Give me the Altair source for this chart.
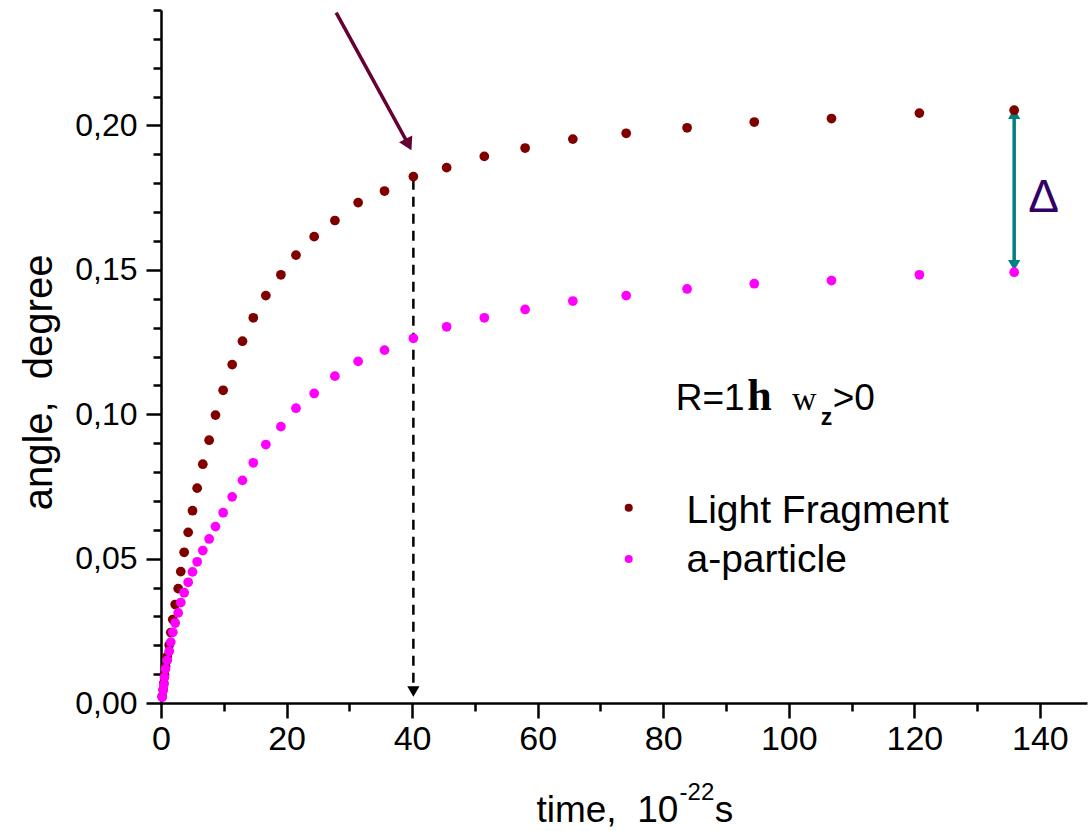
import altair as alt
import pandas as pd

# ---------------- data ----------------
time = [0.19, 0.35, 0.45, 0.56, 0.72, 0.99, 1.31, 1.56, 1.88, 2.26,
        2.74, 3.15, 3.69, 4.33, 5.02, 5.76, 6.66, 7.67, 8.68, 9.90,
        11.34, 12.98, 14.7, 16.7, 19.1, 21.5, 24.4, 27.7, 31.4, 35.6,
        40.2, 45.5, 51.5, 58.0, 65.6, 74.1, 83.8, 94.5, 106.8, 120.8,
        135.9]
light_fragment = [0.0023, 0.0046, 0.0069, 0.0097, 0.0127, 0.0161, 0.0201, 0.0244, 0.0289, 0.0341,
                  0.0396, 0.0455, 0.0522, 0.0591, 0.0666, 0.0744, 0.0827, 0.0910, 0.0997, 0.1083,
                  0.1172, 0.1253, 0.1334, 0.1411, 0.1483, 0.1551, 0.1615, 0.1671, 0.1733, 0.1773,
                  0.1823, 0.1854, 0.1893, 0.1922, 0.1953, 0.1973, 0.1992, 0.2012, 0.2024, 0.2043,
                  0.2053]
alpha_particle = [0.0020, 0.0045, 0.0064, 0.0089, 0.0118, 0.0148, 0.0179, 0.0211, 0.0245, 0.0277,
                  0.0312, 0.0348, 0.0382, 0.0418, 0.0454, 0.0489, 0.0528, 0.0568, 0.0611, 0.0659,
                  0.0714, 0.0771, 0.0832, 0.0895, 0.0957, 0.1021, 0.1072, 0.1132, 0.1183, 0.1222,
                  0.1263, 0.1303, 0.1334, 0.1363, 0.1392, 0.1411, 0.1434, 0.1452, 0.1463, 0.1483,
                  0.1492]

series_names = ["Light Fragment", "a-particle"]
series_colors = ["#800000", "#FF00FF"]

x_ticks = [0, 10, 20, 30, 40, 50, 60, 70, 80, 90, 100, 110, 120, 130, 140]
y_ticks = [0.00, 0.01, 0.02, 0.03, 0.04, 0.05, 0.06, 0.07, 0.08, 0.09, 0.10, 0.11, 0.12,
           0.13, 0.14, 0.15, 0.16, 0.17, 0.18, 0.19, 0.20, 0.21, 0.22, 0.23, 0.24]
x_domain = [0, 147.5]
y_domain = [0, 0.24]

# marked time (dashed drop line) and Δ position
marked_time = 40.2
delta_time = 135.9

SANS = "Liberation Sans"
SERIF = "Liberation Serif"

# ---------------- helpers ----------------
x_scale = alt.Scale(domain=x_domain, nice=False, zero=False)
y_scale = alt.Scale(domain=y_domain, nice=False, zero=False)

x_axis = alt.Axis(
    values=x_ticks, format="d", title=None, grid=False,
    labelExpr="datum.value % 20 == 0 ? datum.label : ''",
    tickSize={"condition": {"test": "datum.value % 20 == 0", "value": 15}, "value": 8},
    tickWidth=2.5, tickColor="black", domainColor="black", domainWidth=2.5,
    labelFont=SANS, labelFontSize=34,
    labelColor="black", labelPadding=4, labelOverlap=False, labelFlush=False,
)
y_axis = alt.Axis(
    values=y_ticks, title=None, grid=False,
    labelExpr="round(datum.value*100) % 5 == 0 ? replace(format(datum.value, '.2f'), '.', ',') : ''",
    tickSize={"condition": {"test": "round(datum.value*100) % 5 == 0", "value": 15}, "value": 8},
    tickWidth=2.5, tickColor="black", domainColor="black", domainWidth=2.5,
    labelFont=SANS, labelFontSize=32, labelColor="black",
    labelPadding=9, labelOverlap=False, labelFlush=False,
)


def X(field="t"):
    return alt.X(f"{field}:Q", scale=x_scale, axis=x_axis)


def Y(field="a"):
    return alt.Y(f"{field}:Q", scale=y_scale, axis=y_axis)


def text_layer(rows, font, size, color="black", weight="normal", align="left",
               baseline="alphabetic", angle=0):
    df = pd.DataFrame(rows, columns=["t", "a", "label"])
    kw = {}
    if angle:
        kw["angle"] = angle
    return alt.Chart(df).mark_text(
        font=font, fontSize=size, color=color, fontWeight=weight,
        align=align, baseline=baseline, **kw
    ).encode(x=X(), y=Y(), text="label:N")


# ---------------- data marks ----------------
df = pd.DataFrame({
    "t": time + time,
    "a": light_fragment + alpha_particle,
    "series": [series_names[0]] * len(time) + [series_names[1]] * len(time),
})
color_scale = alt.Scale(domain=series_names, range=series_colors)

points = alt.Chart(df).mark_circle(size=95, opacity=1).encode(
    x=X(), y=Y(),
    color=alt.Color("series:N", scale=color_scale, legend=None),
)

# ---------------- annotations ----------------
drop = alt.Chart(pd.DataFrame({"t": [marked_time], "a": [0.1812], "a2": [0.006]})).mark_rule(
    color="black", strokeWidth=2.5, strokeDash=[10, 7]
).encode(x=X(), y=Y(), y2="a2:Q")
drop_head = alt.Chart(pd.DataFrame({"t": [marked_time], "a": [0.0040]})).mark_point(
    shape="triangle-down", filled=True, color="black", size=150, opacity=1
).encode(x=X(), y=Y())

pointer = alt.Chart(pd.DataFrame({"t": [27.9], "a": [0.2391], "t2": [39.43], "a2": [0.1934]})).mark_rule(
    color="#660033", strokeWidth=3.5
).encode(x=X(), y=Y(), x2="t2:Q", y2="a2:Q")
pointer_head = alt.Chart(pd.DataFrame({"t": [39.43], "a": [0.1934]})).mark_point(
    shape="triangle-down", filled=True, color="#660033", size=220, opacity=1, angle=333.3
).encode(x=X(), y=Y())

delta_line = alt.Chart(pd.DataFrame({"t": [delta_time], "a": [0.2041], "a2": [0.1516]})).mark_rule(
    color="#008080", strokeWidth=3.5
).encode(x=X(), y=Y(), y2="a2:Q")
delta_up = alt.Chart(pd.DataFrame({"t": [delta_time], "a": [0.2041]})).mark_point(
    shape="triangle-up", filled=True, color="#008080", size=150, opacity=1
).encode(x=X(), y=Y())
delta_down = alt.Chart(pd.DataFrame({"t": [delta_time], "a": [0.1516]})).mark_point(
    shape="triangle-down", filled=True, color="#008080", size=150, opacity=1
).encode(x=X(), y=Y())
delta_text = text_layer([(140.6, 0.1700, "Δ")], SANS, 46, color="#330066", align="center")

r_text = text_layer([(82.0, 0.1016, "R=1")], SANS, 37)
h_text = text_layer([(93.4, 0.1016, "h")], SERIF, 44, weight="bold")
w_text = text_layer([(100.5, 0.1016, "w")], SERIF, 34)
z_text = text_layer([(105.1, 0.0964, "z")], SANS, 23, weight="bold")
gt_text = text_layer([(107.0, 0.1016, ">0")], SANS, 37)

legend_df = pd.DataFrame({"t": [74.5, 74.5], "a": [0.0676, 0.0499], "series": series_names})
legend_dots = alt.Chart(legend_df).mark_circle(size=64, opacity=1).encode(
    x=X(), y=Y(), color=alt.Color("series:N", scale=color_scale, legend=None)
)
legend_text = text_layer([(83.7, 0.0625, series_names[0]), (83.7, 0.0452, series_names[1])],
                         SANS, 39)

# axis titles
xt1 = text_layer([(82.4, -0.0412, "time,\u00a0\u00a010")], SANS, 37, align="right")
xt2 = text_layer([(82.6, -0.0335, "-22")], SANS, 24)
xt3 = text_layer([(88.2, -0.0412, "s")], SANS, 37)
yt = text_layer([(-19.3, 0.111, "angle,\u00a0\u00a0degree")], SANS, 40,
                align="center", baseline="middle", angle=270)

chart = alt.layer(
    drop, drop_head, pointer, pointer_head, delta_line, delta_up, delta_down,
    points, delta_text, r_text, h_text, w_text, z_text, gt_text,
    legend_dots, legend_text, xt1, xt2, xt3, yt,
).properties(
    width=926, height=693,
    autosize=alt.AutoSizeParams(type="none"),
    padding={"left": 161, "top": 10, "right": 4, "bottom": 128},
    background="white",
).configure_view(stroke=None)

chart.save("out.html", embed_options={"renderer": "svg", "actions": False})
